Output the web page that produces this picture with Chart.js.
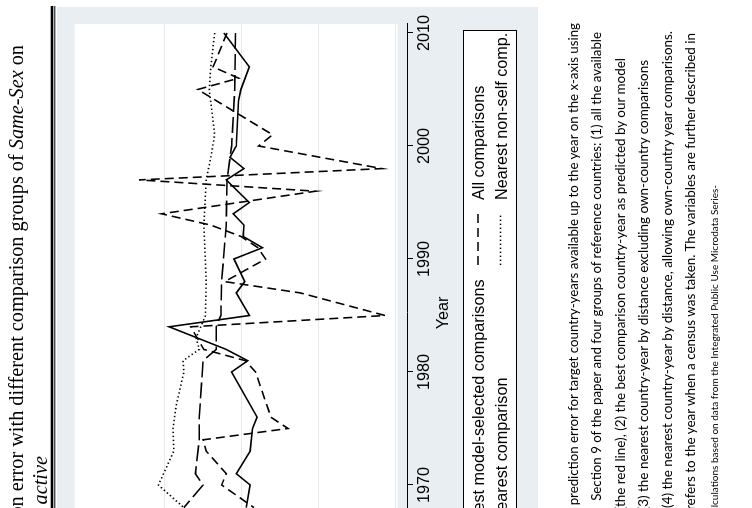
<!DOCTYPE html>
<html><head><meta charset="utf-8">
<script src="https://cdn.jsdelivr.net/npm/chart.js@4.4.1/dist/chart.umd.min.js"></script>
<style>
html,body{margin:0;padding:0;background:#fff;overflow:hidden;width:752px;height:508px;}
#page{position:absolute;left:0;top:0;width:707px;height:752px;transform-origin:0 0;transform:translate(0px,707px) rotate(-90deg);}
#chartbox{position:absolute;left:0;top:57px;width:700px;height:481px;}
#over{position:absolute;left:0;top:0;width:707px;height:752px;overflow:visible;}
</style></head><body>
<div id="page">
  <div id="chartbox"><canvas id="c" width="700" height="481"></canvas></div>
  <svg id="over" width="707" height="752" xmlns="http://www.w3.org/2000/svg"></svg>
</div>
<script>
// ---- data ----
const SERIES_NAMES = ['Best model-selected comparisons','All comparisons','Nearest comparison','Nearest non-self comp.'];
const BEST_YEARS = [2010,2007,2005,2004,2000,1999,1998,1997,1995,1994,1993,1992,1991,1990,1988,1987,1985,1984,1982,1981,1980,1976,1975,1973,1971,1970,1968];
const BEST_ERR   = [0.223,0.190,0.201,0.204,0.207,0.215,0.197,0.220,0.190,0.211,0.197,0.198,0.173,0.210,0.196,0.207,0.190,0.294,0.220,0.192,0.213,0.180,0.186,0.189,0.207,0.189,0.194];
const ALL_YEARS  = [2010,2007,2006,2005,2001,2000,1998,1997,1996,1994,1993,1992,1991,1990,1988,1987,1985,1984,1982,1981,1980,1976,1975,1974,1973,1971,1970,1968];
const ALL_ERR    = [0.219,0.237,0.204,0.257,0.160,0.178,0.018,0.333,0.104,0.304,0.240,0.201,0.179,0.169,0.222,0.124,0.014,0.266,0.249,0.195,0.182,0.162,0.140,0.250,0.246,0.220,0.226,0.184];
const NEAR_YEARS = [2010,2005,2000,1999,1997,1993,1988,1985,1984,1982,1981,1976,1974,1971,1970,1968];
const NEAR_ERR   = [0.208,0.209,0.213,0.215,0.219,0.220,0.226,0.227,0.233,0.233,0.250,0.255,0.255,0.260,0.250,0.275];
const NONSELF_YEARS = [2010,2007,2005,2001,1999,1997,1993,1988,1985,1984,1983,1982,1981,1980,1977,1975,1973,1970,1968];
const NONSELF_ERR   = [0.235,0.240,0.242,0.235,0.240,0.246,0.249,0.246,0.247,0.253,0.259,0.255,0.276,0.275,0.285,0.289,0.288,0.308,0.275];
const YEAR_TICKS = [1970,1980,1990,2000,2010];
const ERR_TICKS  = [0,0.1,0.2,0.3];
const TITLE_LINE1 = ['Prediction error with different comparison groups of ','Same-Sex',' on'];
const TITLE_LINE2 = 'active';
const NOTE_LINES = [
 'prediction error for target country-years available up to the year on the x-axis using',
 'Section 9 of the paper and four groups of reference countries: (1) all the available',
 '(the red line), (2) the best comparison country-year as predicted by our model',
 '(3) the nearest country-year by distance excluding own-country comparisons',
 '(4) the nearest country-year by distance, allowing own-country year comparisons.',
 'refers to the year when a census was taken. The variables are further described in',
 'calculations based on data from the Integrated Public Use Microdata Series-'
];

// ---- styles / layout ----
const DASHES = [[], [9,5], [16,5], [1.4,2.6]];
const BG = '#e8eef1', GRID = '#e4ebee';
const AX_FONT = {family:'Liberation Sans', size:16.2};
// notes: leading chars hidden past the crop, visible start / end (screen y)
const NOTE_CUT   = [0,0,1,1,1,1,2];
const NOTE_START = [507,502,508,508,506,508,507.5];
const NOTE_STOP  = [23,32,58,60,31,33,185];

function pts(ys, vs){ return ys.map((y,i)=>({x:y, y:vs[i]})); }
const SERIES = [pts(BEST_YEARS,BEST_ERR), pts(ALL_YEARS,ALL_ERR), pts(NEAR_YEARS,NEAR_ERR), pts(NONSELF_YEARS,NONSELF_ERR)];

const bgPlugin = {
  id:'bg',
  beforeDraw(chart){
    const {ctx, chartArea:a, width, height} = chart;
    ctx.save();
    ctx.fillStyle = BG; ctx.fillRect(0,0,width,height);
    ctx.fillStyle = '#fff'; ctx.fillRect(a.left, a.top, a.right-a.left, a.bottom-9.5-a.top);
    ctx.restore();
  }
};

new Chart(document.getElementById('c'), {
  type:'line',
  data:{ datasets: SERIES.map((d,i)=>({
    label: SERIES_NAMES[i], data:d, borderColor:'#000', borderWidth:1.6,
    borderDash:DASHES[i], pointRadius:0, tension:0, fill:false
  }))},
  options:{
    responsive:false, devicePixelRatio:1, animation:false,
    layout:{padding:{top:16,right:17,bottom:0,left:0}},
    plugins:{legend:{display:false}, tooltip:{enabled:false}},
    scales:{
      x:{type:'linear', position:'bottom', min:1959.646, max:2010.796,
        afterBuildTicks:s=>{ s.ticks = YEAR_TICKS.map(v=>({value:v})); },
        afterFit:s=>{ s.height = 131; },
        grid:{drawOnChartArea:false, drawTicks:true, tickLength:6, color:'#000', lineWidth:1},
        border:{display:true, color:'#000', width:1},
        ticks:{color:'#000', font:AX_FONT, padding:2.2, maxRotation:0, autoSkip:false, callback:v=>String(v)},
        title:{display:true, text:'Year', color:'#000', font:AX_FONT, padding:{top:0,bottom:84.7}}
      },
      y:{type:'linear', min:-0.01445, max:0.41652,
        afterBuildTicks:s=>{ s.ticks = ERR_TICKS.map(v=>({value:v})); },
        afterFit:s=>{ s.width = 105; },
        grid:{color:GRID, lineWidth:1, drawTicks:false},
        border:{display:false},
        ticks:{color:'#000', font:AX_FONT, padding:8, callback:v=>String(v)}
      }
    }
  },
  plugins:[bgPlugin]
});

// ---- page overlay (title, rules, legend, notes) ----
const NS = 'http://www.w3.org/2000/svg';
const svg = document.getElementById('over');
function el(tag, attrs, text){ const e=document.createElementNS(NS,tag); for(const k in attrs) e.setAttribute(k,attrs[k]); if(text!=null) e.textContent=text; svg.appendChild(e); return e; }

// title
const t1 = el('text',{x:662,y:22.7,'text-anchor':'end','font-family':'Liberation Serif','font-size':20.3,fill:'#000'});
TITLE_LINE1.forEach((s,i)=>{ const ts=document.createElementNS(NS,'tspan'); if(i===1) ts.setAttribute('font-style','italic'); ts.textContent=s; t1.appendChild(ts); });
el('text',{x:251,y:46.7,'text-anchor':'end','font-family':'Liberation Serif','font-size':20.3,'font-style':'italic',fill:'#000'},TITLE_LINE2);

// double rule
el('rect',{x:0,y:50.7,width:701,height:2.6,fill:'#000'});
el('rect',{x:0,y:54.3,width:701,height:1,fill:'#000'});

// legend
el('rect',{x:114.5,y:463.5,width:562,height:53,fill:'#fff',stroke:'#000','stroke-width':1});
const LEG_POS = [[119,184.6,478,483.8],[442,507,478,483.8],[119,184.6,500.5,506.5],[442,507,500.5,506.5]];
SERIES_NAMES.forEach((n,i)=>{
  const [k0,tx,ky,ty] = LEG_POS[i];
  const a = {x1:k0,x2:k0+52,y1:ky,y2:ky,stroke:'#000','stroke-width':1.5};
  if (DASHES[i].length) a['stroke-dasharray'] = DASHES[i].join(',');
  el('line',a);
  el('text',{x:tx,y:ty,'font-family':'Liberation Sans','font-size':16.2,fill:'#000'},n);
});

// notes
const mc = document.createElement('canvas').getContext('2d');
mc.font = '100px Lato';
NOTE_LINES.forEach((s,i)=>{
  const vis = mc.measureText(s.slice(NOTE_CUT[i])).width;
  const f = (NOTE_START[i]-NOTE_STOP[i])/vis*100;
  el('text',{x:707-NOTE_STOP[i], y:578+23.4*i,'text-anchor':'end','font-family':'Lato','font-size':f.toFixed(2),fill:'#000'},s);
});
</script>
</body></html>
